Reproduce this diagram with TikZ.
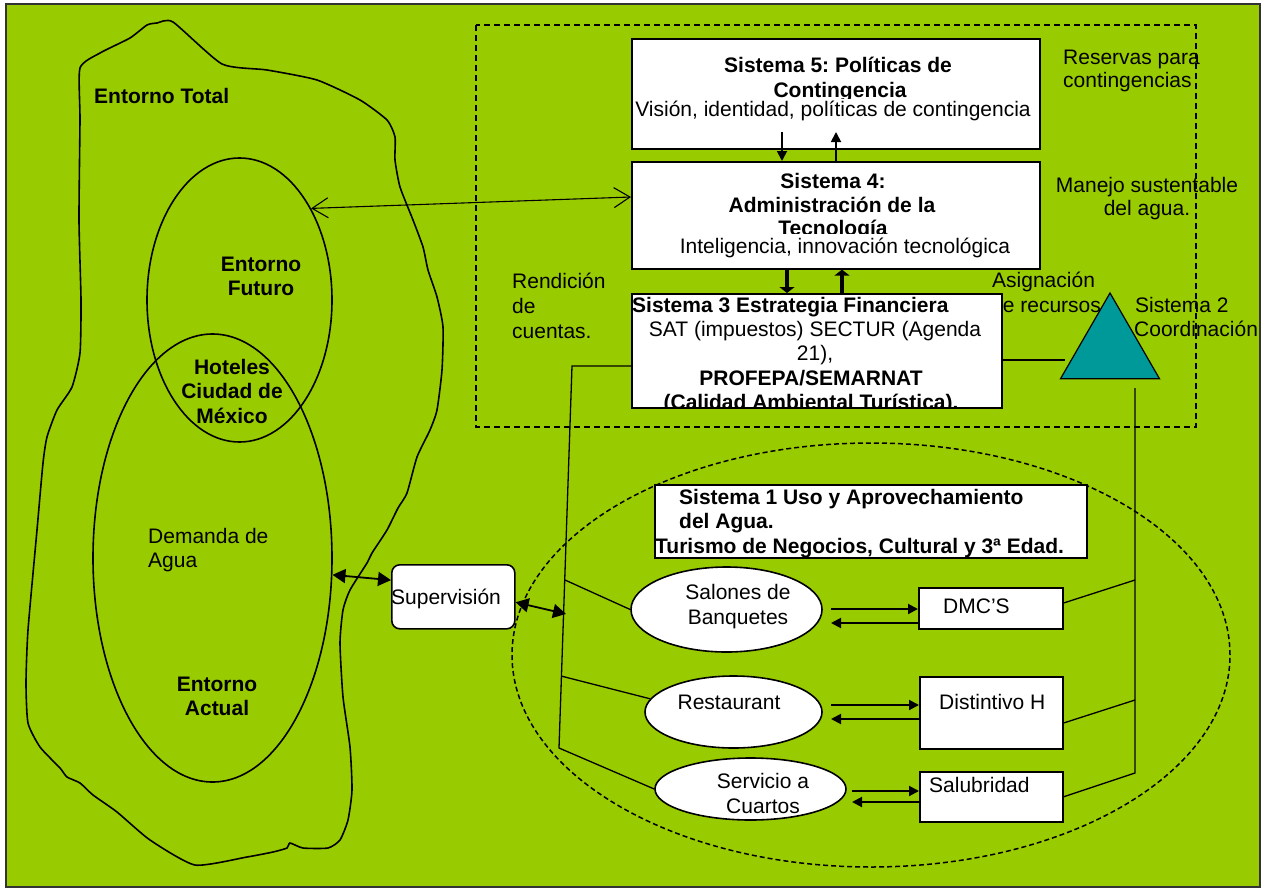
\documentclass[tikz,border=0pt]{standalone}
\usepackage{fontspec}
\setmainfont{Liberation Sans}
\usetikzlibrary{shapes.geometric,arrows.meta,calc}
\definecolor{bg}{HTML}{99CC00}
\definecolor{tri}{HTML}{009999}
\frenchspacing
\begin{document}
\begin{tikzpicture}[x=1pt,y=-1pt,
  every node/.style={inner sep=0pt},
  lbl/.style={anchor=base,font=\fontsize{21}{24}\selectfont},
  lblb/.style={anchor=base,font=\fontsize{21}{24}\selectfont\bfseries},
  lblw/.style={lbl,anchor=base west},
  lblbw/.style={lblb,anchor=base west},
  cover/.style={lbl,fill=white,text depth=5pt},
  box/.style={draw=black,line width=1.6pt,fill=white,anchor=north west},
  oval/.style={ellipse,draw=black,line width=1.6pt},
  woval/.style={oval,fill=white},
  wire/.style={draw=black,line width=1.3pt},
  blobline/.style={draw=black,line width=1.6pt},
  dashrect/.style={draw=black,line width=1.8pt,dash pattern=on 6pt off 4pt},
  dashoval/.style={ellipse,draw=black,line width=1.5pt,dash pattern=on 5pt off 3pt},
  arrsmall/.style={line width=1.8pt,-{Triangle[length=10pt,width=10pt]}},
  arrthick/.style={line width=3.5pt,-{Triangle[length=6pt,width=15pt]}},
  barb/.style={line width=1.1pt,{Straight Barb[length=16pt,width=20pt]}-{Straight Barb[length=16pt,width=20pt]}},
  supa/.style={line width=1.8pt,{Triangle[length=13pt,width=14pt]}-{Triangle[length=13pt,width=14pt]}},
  earr/.style={line width=2pt,-{Triangle[length=10pt,width=10pt]}},
  earrl/.style={line width=2pt,{Triangle[length=10pt,width=10pt]}-}
]
\useasboundingbox (0,0) rectangle (1268,891);
\fill[white] (0,0) rectangle (1268,891);
\draw[draw=black!80,line width=1.5pt,fill=bg] (6,4) rectangle (1260,887);

% left blob (Entorno Total)
\draw[blobline] plot[smooth cycle,tension=0.35] coordinates {
 (80,68) (100,53) (130,38) (147,25) (157,23) (173,22) (222,64) (267,70) (317,80)
 (360,100) (387,120) (395,137) (395,160) (400,187) (413,220) (423,247) (428,270)
 (437,297) (443,327) (442,370) (437,410) (430,430) (417,457) (407,493) (398,508)
 (387,530) (372,553) (367,563) (350,590) (343,610) (340,643) (343,697) (350,747)
 (352,790) (348,820) (340,840) (328,848) (303,848) (290,843) (287,848) (273,852)
 (247,857) (195,865) (150,840) (117,812) (93,795) (80,783) (67,777) (60,768)
 (40,747) (28,723) (26,683) (28,630) (37,530) (43,463) (47,437) (57,410) (72,387)
 (80,353) (81,300) (79,220) (80,120)};

\node[oval,minimum width=239pt,minimum height=448pt] (act) at (212.5,558) {};
\node[oval,minimum width=185pt,minimum height=284pt] (fut) at (239.5,300) {};

\node[lblbw] (t1) at (94,103) {Entorno Total};
\node[lblb] (t2) at (261,271) {Entorno};
\node[lblb] (t3) at (261,295) {Futuro};
\node[lblb] (t4) at (232,374) {Hoteles};
\node[lblb] (t5) at (232,398) {Ciudad de};
\node[lblb] (t6) at (232,423) {México};
\node[lblw] (t7) at (148,543) {Demanda de};
\node[lblw] (t8) at (148,567) {Agua};
\node[lblb] (t9) at (217,691) {Entorno};
\node[lblb] (t10) at (217,715) {Actual};

% side texts of upper area
\node[lblw] (t23) at (512,288) {Rendición};
\node[lblw] (t24) at (512,313) {de};
\node[lblw] (t25) at (512,338) {cuentas.};
\node[lblw] (t26) at (992,287) {Asignación};
\node[lblw] (t27) at (991,312) {de recursos};
\node[lblw] (t28) at (1135,312) {Sistema 2};
\node[lblw] (t29) at (1134,336) {Coordinación};
\node[lblw] (t30) at (1063,65) {Reservas para};
\node[lblw] (t31) at (1063,88) {contingencias};
\node[lbl] (t32) at (1147,192) {Manejo sustentable};
\node[lbl] (t33) at (1147,215) {del agua.};

\draw[dashrect] (476,25) rectangle (1196,427);
\node[dashoval,minimum width=718pt,minimum height=424pt] (s1e) at (871,655) {};

% Sistema 5
\node[box,minimum width=408pt,minimum height=110pt] (s5) at (631,38) {};
\node[lblb] (t11) at (838,73) {Sistema 5: Políticas de};
\node[lblb] (t12) at (840,97) {Contingencia};
\node[cover,text height=17pt] (t13) at (833,116) {Visión, identidad, políticas de contingencia};

% Sistema 4
\node[box,minimum width=408pt,minimum height=107pt] (s4) at (631,161) {};
\node[lblb] (t14) at (833,188) {Sistema 4:};
\node[lblb] (t15) at (832,212) {Administración de la};
\node[lblb] (t16) at (833,235) {Tecnología};
\node[cover,text height=19pt] (t17) at (845,253) {Inteligencia, innovación tecnológica};

% Sistema 3
\node[box,minimum width=370pt,minimum height=114pt] (s3) at (631,293) {};
\begin{scope}
\clip (631,293) rectangle (1001,406);
\node[lblbw] (t18) at (632,312) {Sistema 3 Estrategia Financiera};
\node[lbl] (t19) at (815,336) {SAT (impuestos) SECTUR (Agenda};
\node[lbl] (t20) at (815,360) {21),};
\node[lblb] (t21) at (811,385) {PROFEPA/SEMARNAT};
\node[lblb] (t22) at (811,409) {(Calidad Ambiental Turística).};
\end{scope}

% Sistema 2 triangle
\coordinate (triin) at (1065,360);
\draw[wire] (s3.east |- triin) -- (triin);
\node[regular polygon,regular polygon sides=3,minimum size=114.4pt,draw=black,line width=1.2pt,fill=tri] (tri) at (1110,350.2) {};

% arrows between systems
\coordinate (d5) at (782,132);
\coordinate (u5) at (836,132);
\draw[arrsmall] (d5) -- (d5 |- s4.north);
\draw[arrsmall] (u5 |- s4.north) -- (u5);
\draw[arrthick] (s4.south -| 787,0) -- (s3.north -| 787,0);
\draw[arrthick] (s3.north -| 842,0) -- (s4.south -| 842,0);
\draw[barb] (fut.52) -- (s4.west |- 0,197);

% Sistema 1
\node[box,minimum width=432pt,minimum height=73pt] (s1) at (654,484) {};
\begin{scope}
\clip (654,484) rectangle (1086,556);
\node[lblbw] (t34) at (679,504) {Sistema 1 Uso y Aprovechamiento};
\node[lblbw] (t35) at (679,528) {del Agua.};
\node[lblbw] (t36) at (655,553) {Turismo de Negocios, Cultural y 3ª Edad.};
\end{scope}

% Supervision
\node[box,rounded corners=8pt,minimum width=123pt,minimum height=64pt] (sup) at (391,564) {};
\node[lblw] (t37) at (391,604) {Supervisión};

% ellipses and boxes of Sistema 1
\node[woval,minimum width=191pt,minimum height=85pt] (sal) at (726.5,609.5) {};
\node[lbl] (t38) at (738,599) {Salones de};
\node[lbl] (t39) at (738,624) {Banquetes};
\node[woval,minimum width=177pt,minimum height=72pt] (rest) at (733.5,712) {};
\node[lbl] (t40) at (729,709) {Restaurant};
\node[woval,minimum width=191pt,minimum height=62pt] (serv) at (750.5,789) {};
\node[lbl] (t41) at (763,788) {Servicio a};
\node[lbl] (t42) at (763,813) {Cuartos};

\node[box,minimum width=144pt,minimum height=41pt] (dmc) at (918,587) {};
\node[lblw] (t43) at (943,613) {DMC’S};
\node[box,minimum width=143pt,minimum height=72pt] (dist) at (919,676) {};
\node[lblw] (t44) at (939,709) {Distintivo H};
\node[box,minimum width=143pt,minimum height=50pt] (salub) at (919,771) {};
\node[lblw] (t45) at (929,792) {Salubridad};

\coordinate (a1) at (831,609);
\coordinate (a2) at (831,623);
\coordinate (a3) at (831,705);
\coordinate (a4) at (831,719);
\coordinate (a5) at (852,791);
\coordinate (a6) at (852,802);
\draw[earr] (a1) -- (a1 -| dmc.west);
\draw[earrl] (a2) -- (a2 -| dmc.west);
\draw[earr] (a3) -- (a3 -| dist.west);
\draw[earrl] (a4) -- (a4 -| dist.west);
\draw[earr] (a5) -- (a5 -| salub.west);
\draw[earrl] (a6) -- (a6 -| salub.west);

% left connector lines
\coordinate (L1) at (572,366);
\coordinate (L4) at (559,748);
\coordinate (B1) at (565,580);
\coordinate (B2) at (561,676);
\coordinate (Sx) at (566,614);
\draw[wire] (L1 -| s3.west) -- (L1) -- (L4) -- (serv.west);
\draw[wire] (B1) -- (sal.west);
\draw[wire] (B2) -- (rest.171);

% right connector lines
\coordinate (Rtop) at (1135,388);
\coordinate (R1) at (1135,580);
\coordinate (R2) at (1135,700);
\coordinate (Rbot) at (1135,773);
\draw[wire] (Rtop) -- (Rbot) -- (salub.east);
\draw[wire] (R1) -- (dmc.east |- 0,603);
\draw[wire] (R2) -- (dist.east |- 0,723);

% supervision arrows
\draw[supa] (act.-8) -- (sup.165);
\draw[supa] (sup.-5) -- (Sx);
\end{tikzpicture}
\end{document}
